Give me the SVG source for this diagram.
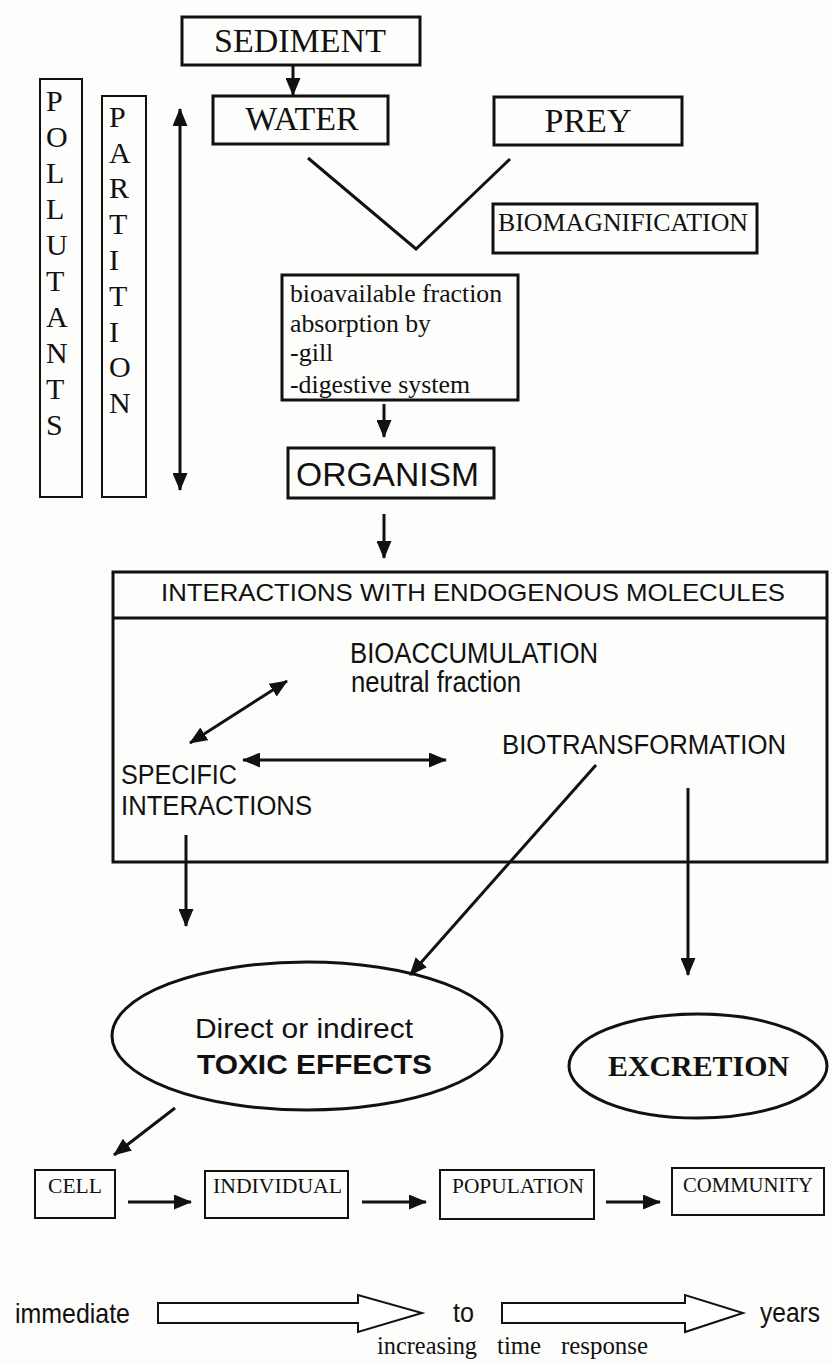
<svg xmlns="http://www.w3.org/2000/svg" width="833" height="1363" viewBox="0 0 833 1363">
<defs>
<marker id="ah" markerUnits="userSpaceOnUse" markerWidth="18" markerHeight="15" refX="17" refY="7.5" orient="auto-start-reverse">
<path d="M0,0 L18,7.5 L0,15 Z" fill="#111"/>
</marker>
</defs>
<style>
.box{fill:none;stroke:#111;stroke-width:3}
.thin{fill:none;stroke:#111;stroke-width:2}
.ln{fill:none;stroke:#111;stroke-width:3}
.ar{fill:none;stroke:#111;stroke-width:3;marker-end:url(#ah)}
.dar{fill:none;stroke:#111;stroke-width:3;marker-start:url(#ah);marker-end:url(#ah)}
.serif{font-family:"Liberation Serif","Times New Roman",serif;fill:#111}
.sans{font-family:"Liberation Sans",Arial,sans-serif;fill:#111}
.hollow{fill:#fff;stroke:#111;stroke-width:2}
</style>
<rect width="833" height="1363" fill="#fdfdfb"/>

<g id="connectors">
<line class="ar" x1="293" y1="66" x2="293" y2="95"/>
<line class="dar" x1="180" y1="109" x2="180" y2="490"/>
<polyline class="ln" points="308,158 416,249 510,159"/>
<line class="ar" x1="384" y1="404" x2="384" y2="437"/>
<line class="ar" x1="384" y1="514" x2="384" y2="558"/>
<line class="dar" x1="190" y1="743" x2="287" y2="681"/>
<line class="dar" x1="243" y1="760" x2="446" y2="760"/>
<line class="ar" x1="186" y1="835" x2="186" y2="926"/>
<line class="ar" x1="596" y1="765" x2="410" y2="975"/>
<line class="ar" x1="688" y1="788" x2="688" y2="975"/>
<line class="ar" x1="175" y1="1108" x2="114" y2="1155"/>
<line class="ar" x1="128" y1="1202" x2="191" y2="1202"/>
<line class="ar" x1="362" y1="1202" x2="426" y2="1202"/>
<line class="ar" x1="606" y1="1202" x2="660" y2="1202"/>
</g>

<g id="sediment">
<rect class="box" x="182" y="17" width="238" height="48"/>
<text class="serif" x="300" y="52" font-size="34" text-anchor="middle">SEDIMENT</text>
</g>
<g id="water">
<rect class="box" x="213" y="96" width="175" height="48"/>
<text class="serif" x="302" y="130" font-size="34" text-anchor="middle">WATER</text>
</g>
<g id="prey">
<rect class="box" x="494" y="97" width="188" height="48"/>
<text class="serif" x="588" y="132" font-size="34" text-anchor="middle">PREY</text>
</g>
<g id="biomagnification">
<rect class="box" x="493" y="204" width="264" height="49"/>
<text class="serif" x="498" y="231" font-size="26" textLength="250" lengthAdjust="spacingAndGlyphs">BIOMAGNIFICATION</text>
</g>

<g id="pollutants">
<rect class="thin" x="40" y="79" width="42" height="418"/>
<g class="serif" font-size="30">
<text x="46" y="111">P</text><text x="46" y="147">O</text><text x="46" y="183">L</text><text x="46" y="219">L</text><text x="46" y="255">U</text><text x="46" y="291">T</text><text x="46" y="327">A</text><text x="46" y="363">N</text><text x="46" y="399">T</text><text x="46" y="435">S</text>
</g>
</g>
<g id="partition">
<rect class="thin" x="102" y="96" width="44" height="401"/>
<g class="serif" font-size="30">
<text x="109" y="127">P</text><text x="109" y="163">A</text><text x="109" y="198">R</text><text x="109" y="234">T</text><text x="109" y="270">I</text><text x="109" y="306">T</text><text x="109" y="342">I</text><text x="109" y="377">O</text><text x="109" y="413">N</text>
</g>
</g>

<g id="bioavailable">
<rect class="box" x="282" y="275" width="236" height="125"/>
<g class="serif" font-size="26">
<text x="290" y="302" textLength="212" lengthAdjust="spacingAndGlyphs">bioavailable fraction</text>
<text x="290" y="332" textLength="141" lengthAdjust="spacingAndGlyphs">absorption by</text>
<text x="290" y="361">-gill</text>
<text x="290" y="393" textLength="180" lengthAdjust="spacingAndGlyphs">-digestive system</text>
</g>
</g>

<g id="organism">
<rect class="box" x="288" y="448" width="206" height="50"/>
<text class="sans" x="296" y="486" font-size="34" textLength="183" lengthAdjust="spacingAndGlyphs">ORGANISM</text>
</g>

<g id="interactions">
<rect class="box" x="113" y="572" width="714" height="290"/>
<line class="ln" x1="113" y1="618" x2="827" y2="618"/>
<text class="sans" x="161" y="601" font-size="24" textLength="624" lengthAdjust="spacingAndGlyphs">INTERACTIONS WITH ENDOGENOUS MOLECULES</text>
</g>
<g id="bioaccumulation">
<text class="sans" x="350" y="663" font-size="29" textLength="248" lengthAdjust="spacingAndGlyphs">BIOACCUMULATION</text>
<text class="sans" x="351" y="692" font-size="29" textLength="170" lengthAdjust="spacingAndGlyphs">neutral fraction</text>
</g>
<g id="biotransformation">
<text class="sans" x="502" y="754" font-size="27" textLength="284" lengthAdjust="spacingAndGlyphs">BIOTRANSFORMATION</text>
</g>
<g id="specific">
<text class="sans" x="121" y="784" font-size="27" textLength="116" lengthAdjust="spacingAndGlyphs">SPECIFIC</text>
<text class="sans" x="121" y="815" font-size="27" textLength="191" lengthAdjust="spacingAndGlyphs">INTERACTIONS</text>
</g>

<g id="toxic">
<ellipse class="box" cx="307" cy="1036" rx="195" ry="74"/>
<text class="sans" x="195" y="1038" font-size="28" textLength="218" lengthAdjust="spacingAndGlyphs">Direct or indirect</text>
<text class="sans" x="197" y="1074" font-size="28" font-weight="bold" textLength="235" lengthAdjust="spacingAndGlyphs">TOXIC EFFECTS</text>
</g>
<g id="excretion">
<ellipse class="box" cx="698" cy="1066" rx="129" ry="52"/>
<text class="serif" x="608" y="1076" font-size="30" font-weight="bold" textLength="181" lengthAdjust="spacingAndGlyphs">EXCRETION</text>
</g>

<g id="cell">
<rect class="thin" x="35" y="1170" width="80" height="48"/>
<text class="serif" x="48" y="1193" font-size="20" textLength="54" lengthAdjust="spacingAndGlyphs">CELL</text>
</g>
<g id="individual">
<rect class="thin" x="205" y="1171" width="143" height="47"/>
<text class="serif" x="213" y="1193" font-size="20" textLength="129" lengthAdjust="spacingAndGlyphs">INDIVIDUAL</text>
</g>
<g id="population">
<rect class="thin" x="440" y="1170" width="154" height="49"/>
<text class="serif" x="452" y="1193" font-size="20" textLength="132" lengthAdjust="spacingAndGlyphs">POPULATION</text>
</g>
<g id="community">
<rect class="thin" x="672" y="1168" width="152" height="47"/>
<text class="serif" x="683" y="1192" font-size="20" textLength="130" lengthAdjust="spacingAndGlyphs">COMMUNITY</text>
</g>

<g id="timescale">
<text class="sans" x="15" y="1323" font-size="28" textLength="115" lengthAdjust="spacingAndGlyphs">immediate</text>
<polygon class="hollow" points="158,1303 358,1303 358,1295 422,1313 358,1332 358,1323 158,1323"/>
<text class="sans" x="453" y="1322" font-size="27" textLength="21" lengthAdjust="spacingAndGlyphs">to</text>
<polygon class="hollow" points="502,1303 685,1303 685,1295 743,1313 685,1332 685,1323 502,1323"/>
<text class="sans" x="760" y="1322" font-size="27" textLength="60" lengthAdjust="spacingAndGlyphs">years</text>
<text class="serif" y="1354" font-size="25"><tspan x="377" textLength="100" lengthAdjust="spacingAndGlyphs">increasing</tspan><tspan x="497" textLength="44" lengthAdjust="spacingAndGlyphs">time</tspan><tspan x="561" textLength="87" lengthAdjust="spacingAndGlyphs">response</tspan></text>
</g>
</svg>
